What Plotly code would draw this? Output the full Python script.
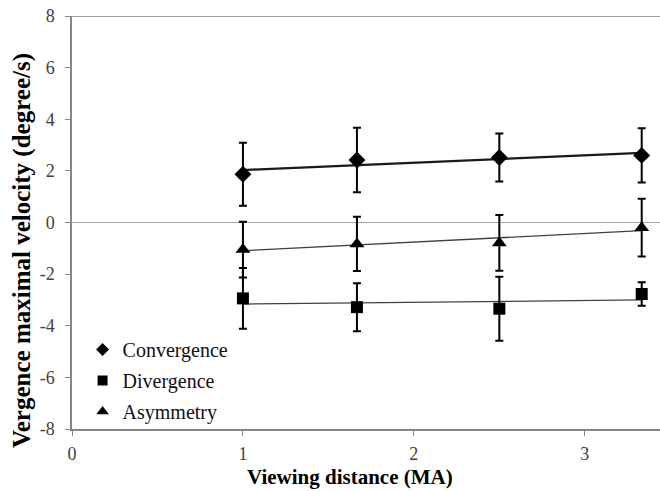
import numpy as np
import plotly.graph_objects as go

# Viewing distance (MA)
distance = [1.0, 1.667, 2.5, 3.333]

# Vergence maximal velocity (degree/s), mean and standard deviation
convergence = [1.87, 2.42, 2.52, 2.60]
convergence_sd = [1.22, 1.25, 0.93, 1.05]
divergence = [-2.94, -3.28, -3.34, -2.77]
divergence_sd = [1.18, 0.93, 1.24, 0.46]
asymmetry = [-1.05, -0.83, -0.79, -0.20]
asymmetry_sd = [1.08, 1.05, 1.08, 1.12]

x_ticks = [0, 1, 2, 3]
y_ticks = [-8, -6, -4, -2, 0, 2, 4, 6, 8]
y_tick_labels = ["-8", "-6", "-4", "-2", "0", "2", "4", "6", "8"]

x_title = "Viewing distance (MA)"
y_title = "Vergence maximal velocity (degree/s)"

SERIF = "'Liberation Serif'"

series = [
    ("Convergence", convergence, convergence_sd, "diamond", 13, 10, 2.2),
    ("Divergence", divergence, divergence_sd, "square", 12, 10, 1.3),
    ("Asymmetry", asymmetry, asymmetry_sd, "triangle-up", 13, 11, 1.3),
]

fig = go.Figure()

# linear trend lines fitted to each series
for name, y, sd, sym, size, lsize, lw in series:
    slope, intercept = np.polyfit(distance, y, 1)
    xs = np.array([min(distance), max(distance)])
    fig.add_trace(go.Scatter(
        x=xs, y=slope * xs + intercept, mode="lines",
        line=dict(color="#1a1a1a" if lw > 2 else "#404040", width=lw),
        showlegend=False, hoverinfo="skip",
    ))

# means with standard deviation bars
for i, (name, y, sd, sym, size, lsize, lw) in enumerate(series):
    fig.add_trace(go.Scatter(
        x=distance, y=y, mode="markers", name=name,
        legendgroup=f"g{i}", showlegend=False,
        marker=dict(symbol=sym, size=size, color="black"),
        error_y=dict(type="data", array=sd, visible=True,
                     color="black", thickness=2, width=4),
    ))
    # legend entry with a smaller symbol
    fig.add_trace(go.Scatter(
        x=[None], y=[None], mode="markers", name=name,
        legendgroup=f"g{i}",
        marker=dict(symbol=sym, size=lsize, color="black"),
    ))

fig.add_shape(type="line", xref="paper", yref="y", x0=0, x1=1, y0=8, y1=8,
              line=dict(color="#7f7f7f", width=1.5))

# axis titles
fig.add_annotation(text=f"<b>{x_title}</b>", xref="paper", yref="paper",
                   x=(350 - 72) / 588, y=-(477 - 429) / 413,
                   xanchor="center", yanchor="middle", showarrow=False,
                   font=dict(family=SERIF, size=21, color="black"))
fig.add_annotation(text=f"<b>{y_title}</b>", xref="paper", yref="paper",
                   x=-(72 - 22) / 588, y=(429 - 251) / 413, textangle=-90,
                   xanchor="center", yanchor="middle", showarrow=False,
                   font=dict(family=SERIF, size=25, color="black"))

fig.update_layout(
    width=660, height=491,
    margin=dict(l=72, r=0, t=16, b=62),
    plot_bgcolor="white", paper_bgcolor="white",
    font=dict(family=SERIF, size=16, color="black"),
    showlegend=True,
    legend=dict(x=0.018, y=0.24, xanchor="left", yanchor="top",
                bgcolor="rgba(0,0,0,0)", font=dict(family=SERIF, size=20, color="#111"),
                traceorder="grouped", tracegroupgap=2, itemwidth=30),
    xaxis=dict(
        range=[0, 3.44], tickvals=x_ticks, showgrid=False, zeroline=False,
        showline=True, linecolor="#868686", linewidth=1.5,
        ticks="outside", ticklen=5, tickcolor="#868686",
        tickfont=dict(family=SERIF, size=18, color="#404040"),
        ticklabelstandoff=3,
    ),
    yaxis=dict(
        range=[-8, 8], tickvals=y_ticks, ticktext=y_tick_labels, showgrid=False,
        zeroline=True, zerolinecolor="#a6a6a6", zerolinewidth=1,
        showline=True, linecolor="#868686", linewidth=1.5,
        ticks="outside", ticklen=5, tickcolor="#868686",
        tickfont=dict(family=SERIF, size=18, color="#404040"),
        ticklabelstandoff=7,
    ),
)

fig.write_html("out.html")
